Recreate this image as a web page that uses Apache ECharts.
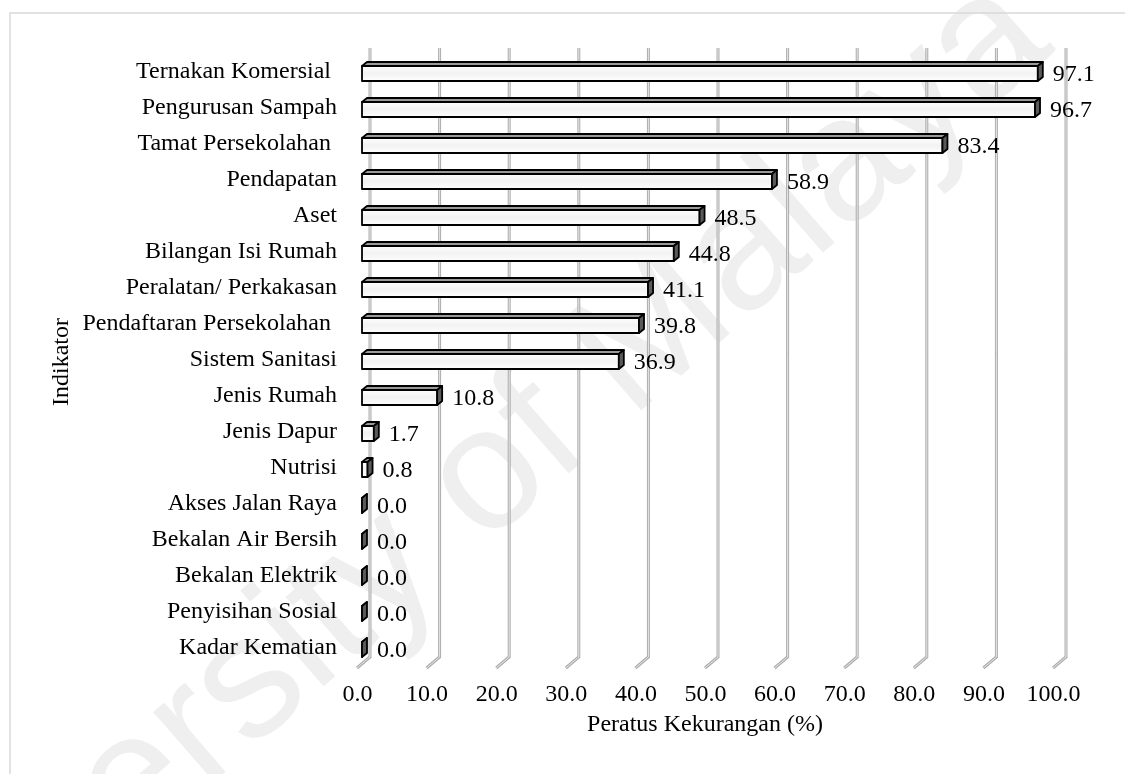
<!DOCTYPE html>
<html>
<head>
<meta charset="utf-8">
<script src="https://cdn.jsdelivr.net/npm/echarts@6/dist/echarts.min.js"></script>
<style>
html,body{margin:0;padding:0;background:#fff;}
#c{width:1125px;height:774px;}
</style>
</head>
<body>
<div id="c"></div>
<script>
const categories = ['Ternakan Komersial ', 'Pengurusan Sampah', 'Tamat Persekolahan ', 'Pendapatan', 'Aset',
  'Bilangan Isi Rumah', 'Peralatan/ Perkakasan', 'Pendaftaran Persekolahan ', 'Sistem Sanitasi', 'Jenis Rumah',
  'Jenis Dapur', 'Nutrisi', 'Akses Jalan Raya', 'Bekalan Air Bersih', 'Bekalan Elektrik', 'Penyisihan Sosial', 'Kadar Kematian'];
const values = [97.1, 96.7, 83.4, 58.9, 48.5, 44.8, 41.1, 39.8, 36.9, 10.8, 1.7, 0.8, 0.0, 0.0, 0.0, 0.0, 0.0];
const xTicks = [0, 10, 20, 30, 40, 50, 60, 70, 80, 90, 100];
const xTitle = 'Peratus Kekurangan (%)';
const yTitle = 'Indikator';
const watermark = 'University of Malaya';

const FONT = '"Liberation Serif", "Times New Roman", serif';
const FS = 24;

const chart = echarts.init(document.getElementById('c'), null, {renderer: 'canvas'});

function gridItem(params, api) {
  const cs = params.coordSys;
  const p = api.coord([api.value(0), 0]);
  const x = p[0];
  const top = cs.y - 6, bot = cs.y + cs.height - 9, fl = cs.y + cs.height + 2;
  const pts = [[x + 8, top], [x + 8, bot], [x - 5, fl]];
  return {
    type: 'group',
    children: [
      {type: 'polyline', shape: {points: pts}, style: {stroke: '#adadad', lineWidth: 3, fill: null}},
      {type: 'polyline', shape: {points: pts}, style: {stroke: '#e6e6e6', lineWidth: 1, fill: null}}
    ]
  };
}

function barItem(params, api) {
  const v = api.value(0), i = api.value(1);
  const s = api.coord([0, i]);
  const e = api.coord([v, i]);
  const x0 = s[0], xe = e[0], yc = s[1];
  const dx = 5, dy = 4;
  const t = yc - 6, b = yc + 9;
  const line = {stroke: '#000', lineWidth: 1.8, lineJoin: 'round'};
  return {
    type: 'group',
    children: [
      {type: 'polygon', shape: {points: [[x0, t], [x0 + dx, t - dy], [xe + dx, t - dy], [xe, t]]},
        style: Object.assign({fill: '#9a9a9a'}, line)},
      {type: 'rect', shape: {x: x0, y: t, width: xe - x0, height: b - t},
        style: Object.assign({fill: new echarts.graphic.LinearGradient(0, 0, 0, 1, [
          {offset: 0, color: '#ffffff'}, {offset: 0.5, color: '#f2f2f2'}, {offset: 1, color: '#ffffff'}])}, line)},
      {type: 'polygon', shape: {points: [[xe, t], [xe + dx, t - dy], [xe + dx, b - dy], [xe, b]]},
        style: Object.assign({fill: '#5a5a5a'}, line)},
      {type: 'text', style: {text: v.toFixed(1), x: xe + 15, y: yc + 3, fill: '#000',
        fontSize: FS, fontFamily: FONT, align: 'left', verticalAlign: 'middle'}}
    ]
  };
}

chart.setOption({
  animation: false,
  backgroundColor: '#fff',
  grid: {left: 362, right: 67, top: 54, bottom: 108, containLabel: false},
  xAxis: {
    type: 'value', min: 0, max: 100, interval: 10,
    axisLine: {show: false}, axisTick: {show: false}, splitLine: {show: false},
    axisLabel: {formatter: v => v.toFixed(1), fontFamily: FONT, fontSize: FS, color: '#000',
      margin: 17, padding: [0, 9, 0, 0]}
  },
  yAxis: {
    type: 'category', data: categories, inverse: true,
    axisLine: {show: false}, axisTick: {show: false}, splitLine: {show: false},
    axisLabel: {fontFamily: FONT, fontSize: FS, color: '#000', margin: 25, padding: [7, 0, 0, 0]}
  },
  graphic: [
    {type: 'text', z: -10, silent: true,
      x: 430, y: 530, rotation: 41 * Math.PI / 180,
      style: {text: watermark, fill: '#efefef', fontSize: 175, fontFamily: '"Liberation Sans", Arial, sans-serif',
        align: 'center', verticalAlign: 'middle'}},
    {type: 'rect', z: -5, silent: true, shape: {x: 10, y: 13, width: 1300, height: 900},
      style: {fill: null, stroke: '#d9d9d9', lineWidth: 1.5}},
    {type: 'text', silent: true, x: 705, y: 725,
      style: {text: xTitle, fontFamily: FONT, fontSize: FS, fill: '#000', align: 'center', verticalAlign: 'middle'}},
    {type: 'text', silent: true, x: 62, y: 362, rotation: Math.PI / 2,
      style: {text: yTitle, fontFamily: FONT, fontSize: FS, fill: '#000', align: 'center', verticalAlign: 'middle'}}
  ],
  series: [
    {type: 'custom', z: 1, renderItem: gridItem, encode: {x: 0, y: 1},
      data: xTicks.map(v => [v, 0]), silent: true},
    {type: 'custom', z: 2, renderItem: barItem, encode: {x: 0, y: 1},
      data: values.map((v, i) => [v, i]), silent: true}
  ]
});
</script>
</body>
</html>
